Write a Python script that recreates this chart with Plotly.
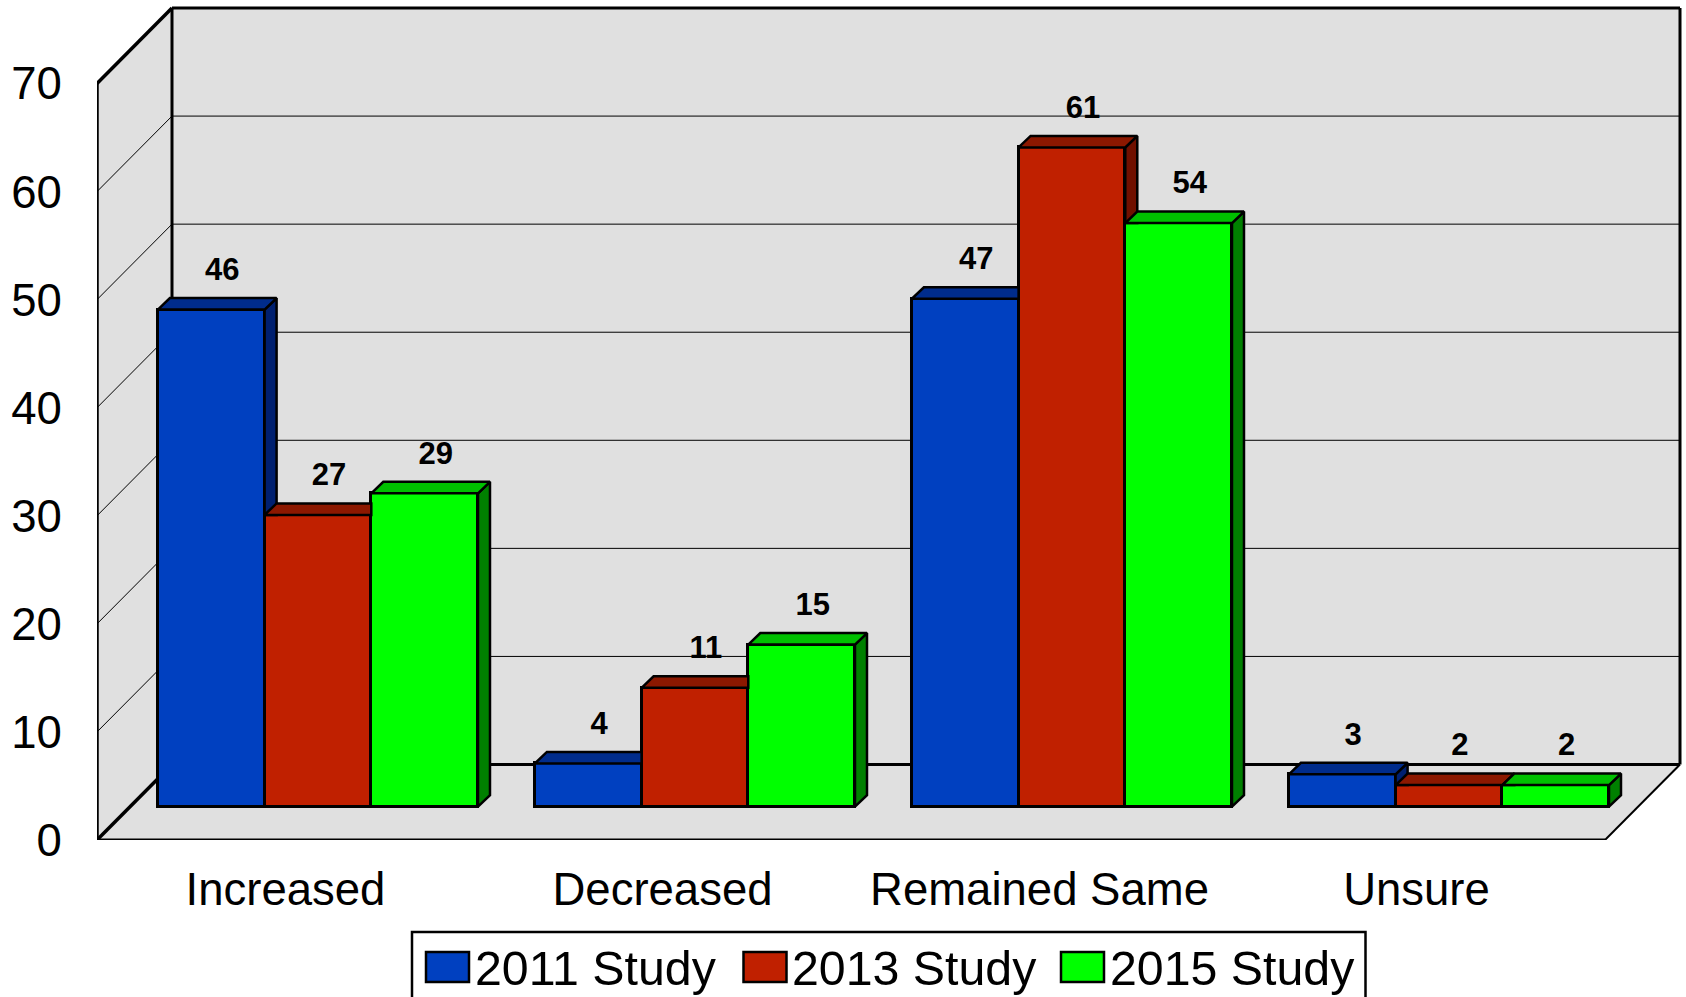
import plotly.graph_objects as go

# ---- data ----
categories = ["Increased", "Decreased", "Remained Same", "Unsure"]
series_names = ["2011 Study", "2013 Study", "2015 Study"]
study_2011 = [46, 4, 47, 3]
study_2013 = [27, 11, 61, 2]
study_2015 = [29, 15, 54, 2]
value_ticks = [0, 10, 20, 30, 40, 50, 60, 70]

series_values = [study_2011, study_2013, study_2015]
front_colors = ["#0040C0", "#C02000", "#00FF00"]
top_colors = ["#002C8C", "#8C1800", "#00C000"]
side_colors = ["#002070", "#701000", "#008000"]

# ---- figure geometry (pixels of the page) ----
W, H = 1686, 997
LEFT, FLOOR_PX = 97.0, 840.0
CAT_PX = 377.0
UNIT_PX = 10.807
FONT = "Liberation Sans, Arial, sans-serif"

# depth of the box and of the bars, in data units
WALL_DX, WALL_DY = 75.0 / CAT_PX, 75.5 / UNIT_PX
BAR_DX, BAR_DY = 12.0 / CAT_PX, 11.5 / UNIT_PX
BAR_BASE = 33.3 / UNIT_PX
BAR_START = -0.3385
BAR_W = 106.7 / CAT_PX
X0, X1 = -0.5, 3.5
TOP = value_ticks[-1]

fig = go.Figure()
INK = "#000000"


def poly(points):
    return "M" + " L".join(f"{x},{y}" for x, y in points) + " Z"


shapes = []
wall_fill = "#E0E0E0"
# walls and floor
for pts in (
    [(X0, 0), (X0 + WALL_DX, WALL_DY), (X0 + WALL_DX, TOP + WALL_DY), (X0, TOP)],
    [(X0 + WALL_DX, WALL_DY), (X1 + WALL_DX, WALL_DY), (X1 + WALL_DX, TOP + WALL_DY), (X0 + WALL_DX, TOP + WALL_DY)],
    [(X0, 0), (X1, 0), (X1 + WALL_DX, WALL_DY), (X0 + WALL_DX, WALL_DY)],
):
    shapes.append(dict(type="path", path=poly(pts), fillcolor=wall_fill, line=dict(width=0),
                       layer="below", xref="x", yref="y"))


def seg(x0, y0, x1, y1, width):
    shapes.append(dict(type="line", x0=x0, y0=y0, x1=x1, y1=y1, xref="x", yref="y",
                       layer="below", line=dict(color=INK, width=width)))


# gridlines
for t in value_ticks[1:-1]:
    seg(X0, t, X0 + WALL_DX, t + WALL_DY, 1)
    seg(X0 + WALL_DX, t + WALL_DY, X1 + WALL_DX, t + WALL_DY, 1)
# box outline
seg(X0, 0, X0, TOP, 3.5)
seg(X0, TOP, X0 + WALL_DX, TOP + WALL_DY, 3.5)
seg(X0 + WALL_DX, WALL_DY, X0 + WALL_DX, TOP + WALL_DY, 3)
seg(X0 + WALL_DX, TOP + WALL_DY, X1 + WALL_DX, TOP + WALL_DY, 3)
seg(X1 + WALL_DX, WALL_DY, X1 + WALL_DX, TOP + WALL_DY, 3)
seg(X0, 0, X1, 0, 3)
seg(X0, 0, X0 + WALL_DX, WALL_DY, 3.5)
seg(X0 + WALL_DX, WALL_DY, X1 + WALL_DX, WALL_DY, 3)
seg(X1, 0, X1 + WALL_DX, WALL_DY, 2)

# front faces: real bars
for j, name in enumerate(series_names):
    xs = [i + BAR_START + BAR_W * (j + 0.5) for i in range(len(categories))]
    fig.add_trace(go.Bar(
        x=xs, y=series_values[j], base=[BAR_BASE] * len(xs), width=BAR_W, name=name,
        marker=dict(color=front_colors[j], line=dict(color=INK, width=3)),
        showlegend=False, hoverinfo="y+name"))


def face(points, color):
    fig.add_trace(go.Scatter(
        x=[p[0] for p in points] + [points[0][0]],
        y=[p[1] for p in points] + [points[0][1]],
        mode="lines", fill="toself", fillcolor=color,
        line=dict(color=INK, width=2.5), showlegend=False, hoverinfo="skip"))


# top and side faces (scatter sits over bars, so hide what the next bar covers)
label_x, label_y, label_t = [], [], []
for i in range(len(categories)):
    for j in range(len(series_names)):
        v = series_values[j][i]
        xl = i + BAR_START + BAR_W * j
        xr = xl + BAR_W
        yb = BAR_BASE
        yt = yb + v
        nxt = yb + series_values[j + 1][i] if j < len(series_names) - 1 else None
        hidden = nxt is not None and nxt >= yt + BAR_DY
        if hidden:
            # only the part of the top left of the next bar shows
            face([(xl, yt), (xl + BAR_DX, yt + BAR_DY), (xr, yt + BAR_DY), (xr, yt)], top_colors[j])
        else:
            if nxt is None:
                side = [(xr, yt), (xr + BAR_DX, yt + BAR_DY), (xr + BAR_DX, yb + BAR_DY), (xr, yb)]
            else:
                side = [(xr, yt), (xr + BAR_DX, yt + BAR_DY), (xr + BAR_DX, nxt), (xr, nxt)]
            face(side, side_colors[j])
            face([(xl, yt), (xl + BAR_DX, yt + BAR_DY), (xr + BAR_DX, yt + BAR_DY), (xr, yt)], top_colors[j])
        label_x.append(xl + BAR_W / 2 + BAR_DX - 1 / CAT_PX)
        label_y.append(yt + BAR_DY + 2.4)
        label_t.append(str(v))

fig.add_trace(go.Scatter(
    x=label_x, y=label_y, text=label_t, mode="text", textposition="middle center",
    textfont=dict(family=FONT, size=31, color=INK, weight="bold"),
    showlegend=False, hoverinfo="skip", cliponaxis=False))

# ---- hand-placed legend: swatches are larger than the library's own ----
PLOT_W = W - LEFT


def px(x):
    return (x - LEFT) / PLOT_W


def py(y):
    return (FLOOR_PX - y) / FLOOR_PX


shapes.append(dict(type="rect", xref="paper", yref="paper", x0=px(412), x1=px(1365.5), y0=py(932), y1=py(1012),
                   fillcolor="#FFFFFF", line=dict(color=INK, width=2.5), layer="above"))
swatch_left = [426, 743.5, 1061]
annotations = []
for j, name in enumerate(series_names):
    shapes.append(dict(type="rect", xref="paper", yref="paper", x0=px(swatch_left[j]), x1=px(swatch_left[j] + 43),
                       y0=py(952), y1=py(982), fillcolor=front_colors[j],
                       line=dict(color=INK, width=2.5), layer="above"))
    annotations.append(dict(xref="paper", yref="paper", x=px(swatch_left[j] + 46.5), y=py(968), text=name,
                            xanchor="left", yanchor="middle", showarrow=False,
                            font=dict(family=FONT, size=48.3, color=INK)))

fig.update_layout(
    width=W, height=H, autosize=False,
    margin=dict(l=LEFT, r=0, t=0, b=H - FLOOR_PX, pad=0),
    plot_bgcolor="#FFFFFF", paper_bgcolor="#FFFFFF",
    bargap=0, barmode="overlay", showlegend=False,
    shapes=shapes, annotations=annotations,
    xaxis=dict(range=[X0, X0 + (W - LEFT) / CAT_PX], tickvals=list(range(len(categories))), ticktext=categories,
               showgrid=False, zeroline=False, showline=False, ticks="outside", ticklen=9.5,
               tickcolor="rgba(0,0,0,0)", tickfont=dict(family=FONT, size=45.5, color=INK)),
    yaxis=dict(range=[0, FLOOR_PX / UNIT_PX], tickvals=value_ticks, showgrid=False, zeroline=False, showline=False,
               ticks="outside", ticklen=25, tickcolor="rgba(0,0,0,0)",
               tickfont=dict(family=FONT, size=45.5, color=INK)),
)

fig.write_html("out.html", config={"displayModeBar": False},
               post_script="document.body.style.margin='0';document.body.style.overflow='hidden';")
